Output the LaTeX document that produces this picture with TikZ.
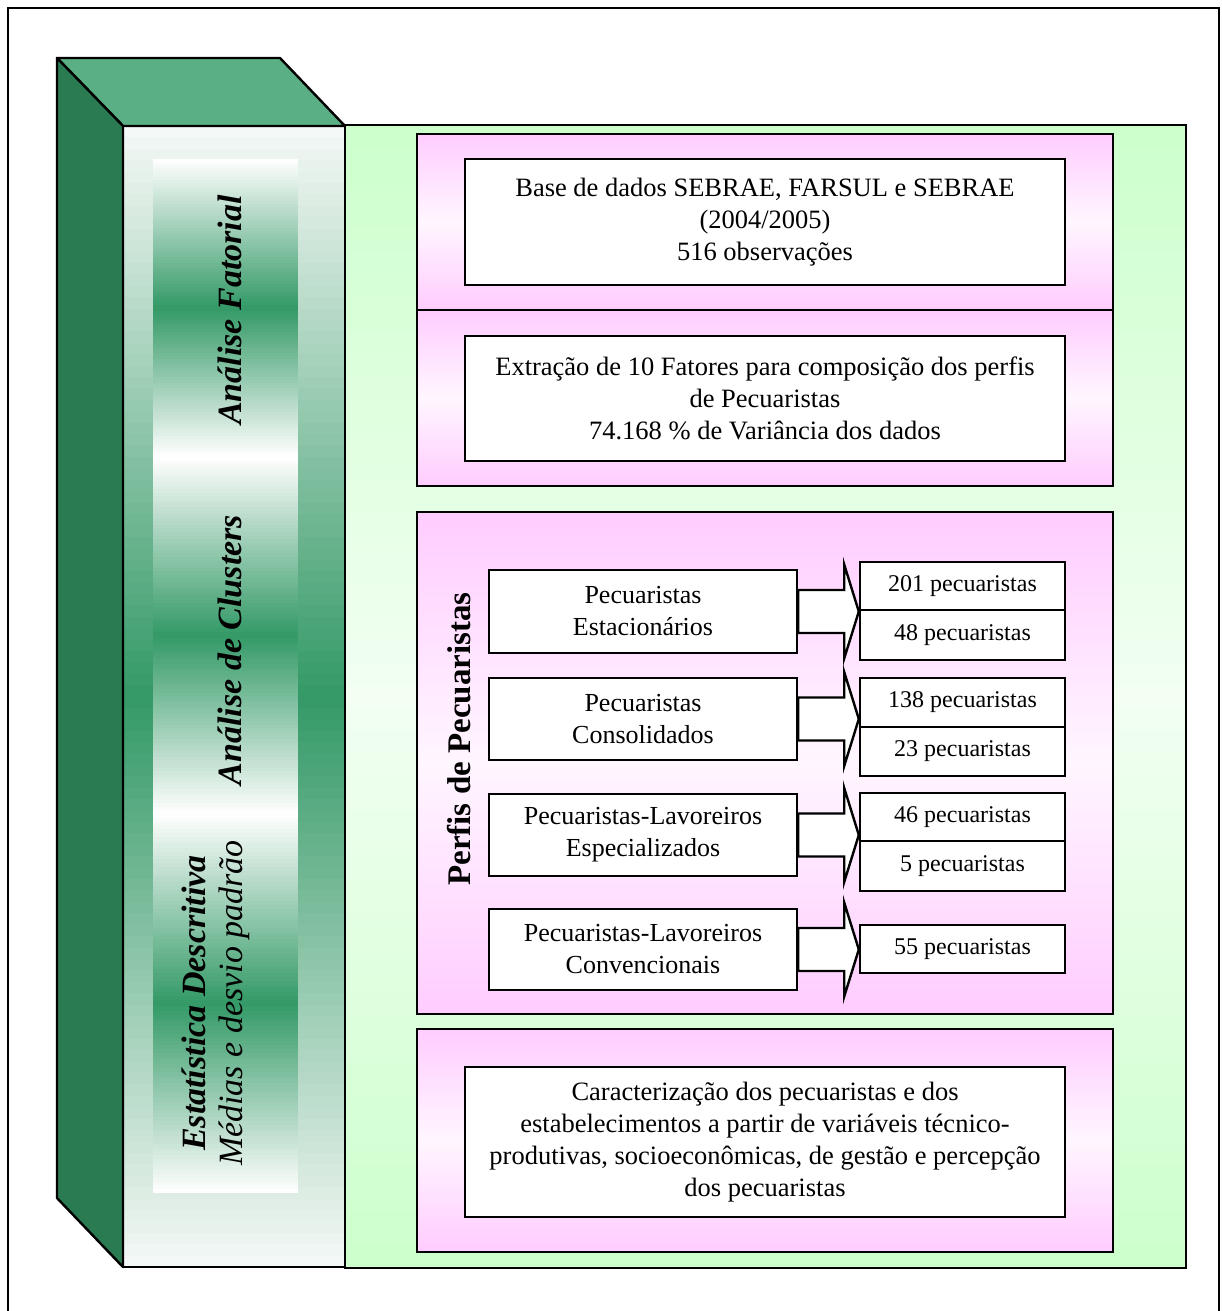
\documentclass[tikz,border=0pt]{standalone}
\usepackage{fontspec}
\setmainfont{Liberation Serif}
\usetikzlibrary{calc}
\definecolor{sidegreen}{RGB}{43,123,82}
\definecolor{topgreen}{RGB}{91,175,133}
\definecolor{stripgreen}{RGB}{51,153,102}
\definecolor{panelgreen}{RGB}{204,255,204}
\definecolor{panelpink}{RGB}{255,204,255}
\definecolor{faceedge}{RGB}{246,249,247}
\definecolor{greenmid}{RGB}{242,255,242}
\definecolor{pinkmid}{RGB}{255,246,255}
\tikzset{
  outline/.style={draw=black, line width=2.4pt, line join=miter},
  blockface/.style={draw=black, line width=2.4pt, line join=round},
  pinkpanel/.style={outline, minimum width=696pt, inner sep=0pt},
  whitebox/.style={outline, fill=white, minimum width=600pt, inner sep=0pt, align=center, font=\fontsize{26.5}{32}\selectfont},
  leftbox/.style={outline, fill=white, minimum width=308pt, inner sep=0pt, align=center, font=\fontsize{26}{32}\selectfont},
  countbox/.style={outline, fill=white, minimum width=205pt, inner sep=0pt, align=center, font=\fontsize{24}{28}\selectfont},
  sidelabel/.style={rotate=90, align=center, inner sep=0pt},
  blockarrow/.style={outline, fill=white}
}
% vertical gradient: #1 x1, #2 y1, #3 x2, #4 y2, #5 edge colour, #6 middle colour
\newcommand\vgrad[6]{%
  \pgfmathsetmacro\gh{(#4-#2)/100}%
  \foreach \i in {0,...,99}{%
    \pgfmathsetmacro\ya{#2+\gh*\i}%
    \pgfmathsetmacro\yb{min(\ya+\gh+0.7,#4)}%
    \pgfmathsetmacro\pc{100-abs(\i+0.5-50)*2}%
    \fill[#6!\pc!#5] (#1,\ya) rectangle (#3,\yb);
  }}
\newcommand\blockarr[2]{%
  \coordinate (tip#1) at (#2.west |- #1.east);
  \draw[blockarrow] ($(#1.east)+(0,-21.5)$) -- ($(#1.east)+(46,-21.5)$) -- ($(#1.east)+(46,-47)$) -- (tip#1)
     -- ($(#1.east)+(46,47)$) -- ($(#1.east)+(46,21.5)$) -- ($(#1.east)+(0,21.5)$) -- cycle;}
\begin{document}
\begin{tikzpicture}[x=1pt,y=-1pt]
\useasboundingbox (0,0) rectangle (1221,1311);
% outer frame
\draw[line width=2.6pt] (8,1320) -- (8,8) -- (1219,8) -- (1219,1320);
% green panel
\vgrad{345}{125}{1186}{1268}{panelgreen}{greenmid}
\draw[outline] (345,125) rectangle (1186,1268);
% front face of block
\vgrad{123}{126}{345}{1267}{faceedge}{stripgreen}
% strips
\vgrad{153}{159}{298}{457}{white}{stripgreen}
\vgrad{153}{457}{298}{814}{white}{stripgreen}
\vgrad{153}{814}{298}{1193}{white}{stripgreen}
\draw[blockface] (123,126) rectangle (345,1267);
% top and side faces
\draw[blockface, fill=topgreen] (57,58) -- (280,58) -- (345,126) -- (123,126) -- cycle;
\draw[blockface, fill=sidegreen] (57,58) -- (123,126) -- (123,1267) -- (57,1198) -- cycle;
% side labels
\node[sidelabel, font=\fontsize{34}{40}\selectfont\bfseries\itshape] (lfat) at (230,310) {Análise Fatorial};
\node[sidelabel, font=\fontsize{34}{40}\selectfont\bfseries\itshape] (lclu) at (230,650) {Análise de Clusters};
\node[sidelabel, font=\fontsize{34}{37}\selectfont] (lest) at (216,1003) {\textbf{\textit{Estatística Descritiva}}\\\textit{Médias e desvio padrão}};
% pink panels
\vgrad{417}{134}{1113}{310}{panelpink}{pinkmid}
\vgrad{417}{310}{1113}{486}{panelpink}{pinkmid}
\vgrad{417}{512}{1113}{1014}{panelpink}{pinkmid}
\vgrad{417}{1029}{1113}{1252}{panelpink}{pinkmid}
\node[pinkpanel, minimum height=176pt] (p1) at (765,222) {};
\node[pinkpanel, minimum height=176pt] (p2) at (765,398) {};
\node[pinkpanel, minimum height=502pt] (p3) at (765,763) {};
\node[pinkpanel, minimum height=223pt] (p4) at (765,1140.5) {};
% white boxes
\node[whitebox, minimum height=126pt] (base) at (765,222) {Base de dados SEBRAE, FARSUL e SEBRAE\\(2004/2005)\\516 observações};
\node[whitebox, minimum height=125pt] (extr) at (765,398.5) {Extração de 10 Fatores para composição dos perfis\\de Pecuaristas\\74.168 \% de Variância dos dados};
\node[whitebox, minimum height=150pt] (carac) at (765,1142) {Caracterização dos pecuaristas e dos\\estabelecimentos a partir de variáveis técnico-\\produtivas, socioeconômicas, de gestão e percepção\\dos pecuaristas};
% perfis label
\node[sidelabel, font=\fontsize{33}{40}\selectfont\bfseries] (perf) at (459,739) {Perfis de Pecuaristas};
% right count boxes
\node[countbox, minimum height=48pt] (r1a) at (962.5,586) {201 pecuaristas};
\node[countbox, minimum height=50pt] (r1b) at (962.5,635) {48 pecuaristas};
\node[countbox, minimum height=49pt] (r2a) at (962.5,702.5) {138 pecuaristas};
\node[countbox, minimum height=49pt] (r2b) at (962.5,751.5) {23 pecuaristas};
\node[countbox, minimum height=48pt] (r3a) at (962.5,817) {46 pecuaristas};
\node[countbox, minimum height=50pt] (r3b) at (962.5,866) {5 pecuaristas};
\node[countbox, minimum height=48pt] (r4) at (962.5,949) {55 pecuaristas};
% left profile boxes
\node[leftbox, minimum height=83pt] (l1) at (643,611.5) {Pecuaristas\\Estacionários};
\node[leftbox, minimum height=82pt] (l2) at (643,719) {Pecuaristas\\Consolidados};
\node[leftbox, minimum height=82pt] (l3) at (643,835) {Pecuaristas-Lavoreiros\\Especializados};
\node[leftbox, minimum height=81pt] (l4) at (643,949.5) {Pecuaristas-Lavoreiros\\Convencionais};
% block arrows
\blockarr{l1}{r1a}
\blockarr{l2}{r2a}
\blockarr{l3}{r3a}
\blockarr{l4}{r4}
\end{tikzpicture}
\end{document}
